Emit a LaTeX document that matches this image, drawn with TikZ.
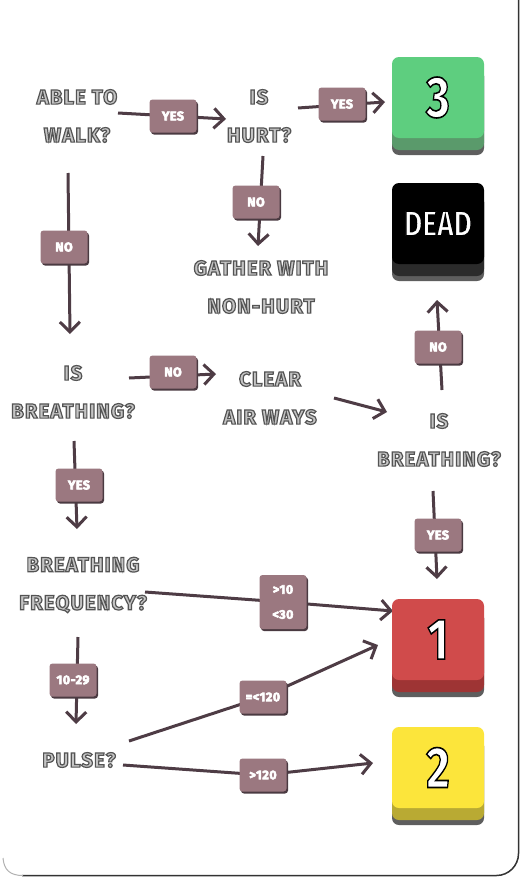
\documentclass[tikz,border=0pt]{standalone}
\usepackage{fontspec}
\setmainfont{Fira Sans}
\usepackage{graphicx}
\usetikzlibrary{arrows.meta,shadows}
\definecolor{lnc}{HTML}{4E3C45}
\definecolor{lblfill}{HTML}{9B7880}
\definecolor{lblshadow}{HTML}{4A3A41}
\definecolor{txtfill}{HTML}{C4C4C4}
\definecolor{greenface}{HTML}{5ECE7F}
\definecolor{greenband}{HTML}{5A9A6B}
\definecolor{redface}{HTML}{D04B4B}
\definecolor{redband}{HTML}{9E3434}
\definecolor{yelface}{HTML}{FCE53B}
\definecolor{yelband}{HTML}{B9AA33}
\definecolor{blkface}{HTML}{000000}
\definecolor{blkband}{HTML}{2B2B2B}
\definecolor{boxshadow}{HTML}{5E5E5E}
\definecolor{cardline}{HTML}{333333}
% outlined text: fill colour #1, stroke given as PDF RGB #2, width #3
\newcommand\olt[4]{{\color{#1}\special{pdf:literal direct #2 RG #3 w 2 Tr}#4\special{pdf:literal direct 0 Tr}}}
\newcommand\tx[1]{\olt{txtfill}{0.33 0.33 0.33}{1.2}{#1}}
\newcommand\lt[1]{\olt{white}{1 1 1}{0.6}{#1}}
\newcommand\bt[1]{\scalebox{0.78}[1]{\olt{white}{0 0 0}{1.6}{#1}}}
\pgfdeclarelayer{bg}
\pgfdeclarelayer{lines}
\pgfsetlayers{bg,lines,main}
\tikzset{
  txt/.style={align=center, inner sep=0pt, font=\fontsize{20.5}{38}\selectfont\bfseries\addfontfeature{LetterSpace=5}},
  lbl/.style={fill=lblfill, rounded corners=3pt, minimum width=47pt, minimum height=33pt,
    inner sep=0pt, align=center, font=\fontsize{12.5}{25}\selectfont\bfseries\addfontfeature{LetterSpace=4},
    drop shadow={shadow xshift=1.5pt, shadow yshift=-2pt, fill=lblshadow, opacity=1}},
  resface/.style={minimum width=92pt, minimum height=81pt, rounded corners=7pt, inner sep=0pt},
  conn/.style={draw=lnc, line width=3pt},
  arr/.style={conn, -{Straight Barb[length=10pt,width=20pt]}},
}
\newcommand\resbox[6]{%
  \fill[boxshadow, rounded corners=7pt] (#2,#3+12) rectangle ++(92,86);
  \fill[#5, rounded corners=7pt] (#2,#3+12) rectangle ++(92,81);
  \node[resface, fill=#4] (#1) at (#2+46,#3+40.5) {#6};
}
\begin{document}
\begin{tikzpicture}[x=1pt,y=-1pt]
\useasboundingbox (0,0) rectangle (522,878);
\begin{pgfonlayer}{bg}
\fill[white] (0,0) rectangle (522,878);
\draw[cardline, line width=1.5pt, rounded corners=22pt] (518.5,-5) -- (518.5,875.5) -- (22,875.5);
\draw[black!30, line width=1pt] (23,875.5) .. controls (10,875.5) and (4,870) .. (3,858);
\end{pgfonlayer}

% text nodes
\node[txt] (walk) at (77,116) {\tx{ABLE TO}\\\tx{WALK?}};
\node[txt] (hurt) at (259,116) {\tx{IS}\\\tx{HURT?}};
\node[txt] (gather) at (261,287) {\tx{GATHER WITH}\\\tx{NON-HURT}};
\node[txt] (breath) at (73,392) {\tx{IS}\\\tx{BREATHING?}};
\node[txt] (clear) at (270,398) {\tx{CLEAR}\\\tx{AIR WAYS}};
\node[txt] (breathb) at (439,440) {\tx{IS}\\\tx{BREATHING?}};
\node[txt] (freq) at (83,585) {\tx{BREATHING}\\\tx{FREQUENCY?}};
\node[txt] (pulse) at (79,760) {\tx{PULSE?}};

% result boxes
\resbox{three}{392}{57}{greenface}{greenband}{\raisebox{-4pt}{\fontsize{58}{58}\selectfont\bfseries\bt{3}}}
\resbox{dead}{392}{183}{blkface}{blkband}{\raisebox{-9pt}{\fontsize{36}{36}\selectfont\bfseries\bt{DEAD}}}
\resbox{one}{392}{599}{redface}{redband}{\raisebox{-4pt}{\fontsize{58}{58}\selectfont\bfseries\bt{1}}}
\resbox{two}{392}{727}{yelface}{yelband}{\raisebox{-2pt}{\fontsize{58}{58}\selectfont\bfseries\bt{2}}}

% labels
\node[lbl] (yesA) at (173,116) {\lt{YES}};
\node[lbl] (yesB) at (342,104) {\lt{YES}};
\node[lbl] (noB) at (256,202) {\lt{NO}};
\node[lbl] (noA) at (64,247) {\lt{NO}};
\node[lbl] (noC) at (173,372) {\lt{NO}};
\node[lbl] (noD) at (438,347) {\lt{NO}};
\node[lbl] (yesC) at (79,485) {\lt{YES}};
\node[lbl] (yesD) at (438,535) {\lt{YES}};
\node[lbl, minimum height=54pt] (rng) at (283,602) {\lt{>10}\\\lt{<30}};
\node[lbl] (rngb) at (73,680) {\lt{10-29}};
\node[lbl] (plsA) at (263,697) {\lt{=<120}};
\node[lbl] (plsB) at (263,775) {\lt{>120}};

% connector ends
\coordinate (s1) at (118,113); \coordinate (e1) at (226,119);
\coordinate (s2) at (298,108); \coordinate (e2) at (385,102);
\coordinate (s3) at (263,156); \coordinate (e3) at (258,246);
\coordinate (s4) at (68,173);  \coordinate (e4) at (70,334);
\coordinate (s5) at (129,378); \coordinate (e5) at (216,374);
\coordinate (s6) at (334,398); \coordinate (e6) at (387,412);
\coordinate (s7) at (442,390); \coordinate (e7) at (437,300);
\coordinate (s8) at (433,491); \coordinate (e8) at (437,579);
\coordinate (s9) at (74,441);  \coordinate (e9) at (77,529);
\coordinate (s10) at (145,592); \coordinate (e10) at (393,611);
\coordinate (s11) at (78,637); \coordinate (e11) at (76,724);
\coordinate (s12) at (129,741); \coordinate (e12) at (378,645);
\coordinate (s13) at (123,765); \coordinate (e13) at (373,763);

\begin{pgfonlayer}{lines}
\draw[arr] (s1) -- (e1);
\draw[arr] (s2) -- (e2);
\draw[arr] (s3) -- (e3);
\draw[arr] (s4) -- (e4);
\draw[arr] (s5) -- (e5);
\draw[arr] (s6) -- (e6);
\draw[arr] (s7) -- (e7);
\draw[arr] (s8) -- (e8);
\draw[arr] (s9) -- (e9);
\draw[arr] (s10) -- (rng.center) -- (e10);
\draw[arr] (s11) -- (e11);
\draw[arr] (s12) -- (plsA.center) -- (e12);
\draw[arr] (s13) -- (plsB.center) -- (e13);
\end{pgfonlayer}
\end{tikzpicture}
\end{document}
